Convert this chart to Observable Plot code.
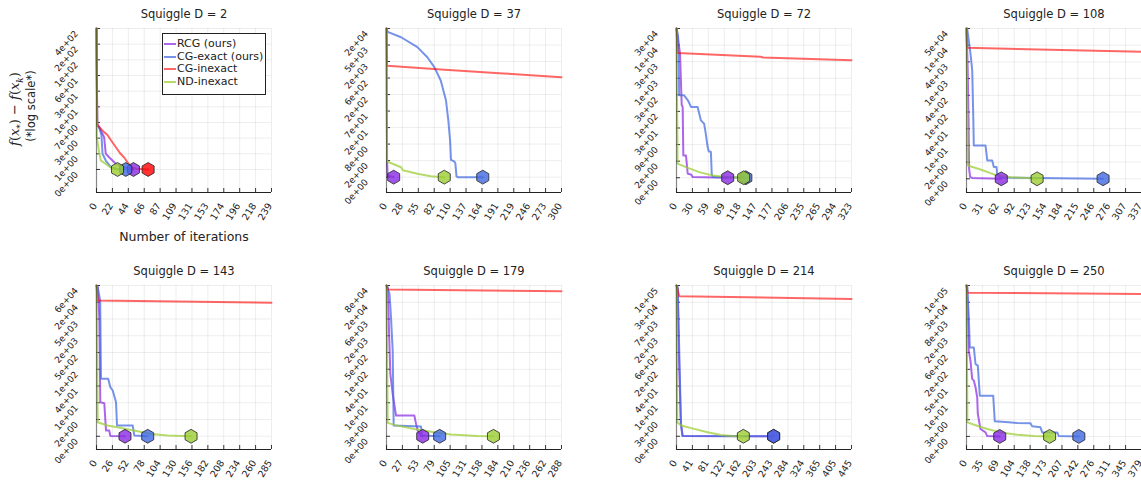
<!DOCTYPE html>
<html><head><meta charset="utf-8">
<script src="https://cdn.jsdelivr.net/npm/d3@7"></script>
<script src="https://cdn.jsdelivr.net/npm/@observablehq/plot@0.6"></script>
<style>
body{margin:0;background:#fff;}
#wrap{position:relative;width:1141px;height:485px;overflow:hidden;font-family:"DejaVu Sans",sans-serif;color:#222;}
.panel{position:absolute;}
.ylab{position:absolute;white-space:nowrap;transform:translate(-50%,-50%) rotate(-90deg);}
#legend{position:absolute;left:162px;top:33px;width:102px;height:60px;border:1px solid #222;background:#fff;font-size:11px;}
#legend .row{position:absolute;left:0;height:12px;line-height:12px;}
#legend .sw{position:absolute;left:1px;top:5px;width:12px;height:2px;}
#legend .tx{position:absolute;left:14px;top:0;white-space:nowrap;}
</style></head><body><div id="wrap"></div>
<script>
// ---- labels ----
const titles = ["Squiggle D = 2","Squiggle D = 37","Squiggle D = 72","Squiggle D = 108","Squiggle D = 143","Squiggle D = 179","Squiggle D = 214","Squiggle D = 250"];
const seriesNames = ["RCG (ours)","CG-exact (ours)","CG-inexact","ND-inexact"];
const seriesColors = ["#8a2be2","#4169e1","#ff0000","#9acd32"];
const seriesOpacity = [0.72,0.72,0.6,0.72];
const xMax = [239,300,323,337,285,288,445,379];
const yLo = [-1.47,-0.93,-0.89,-0.82,-0.79,-0.79,-0.79,-0.78];

const xLabels_D2 = ["0","22","44","66","87","109","131","153","174","196","218","239"];
const xLabels_D37 = ["0","28","55","82","110","137","164","191","219","246","273","300"];
const xLabels_D72 = ["0","30","59","89","118","147","177","206","235","265","294","323"];
const xLabels_D108 = ["0","31","62","92","123","154","184","215","246","276","307","337"];
const xLabels_D143 = ["0","26","52","78","104","130","156","182","208","234","260","285"];
const xLabels_D179 = ["0","27","53","79","105","131","158","184","210","236","262","288"];
const xLabels_D214 = ["0","41","81","122","162","203","243","284","324","365","405","445"];
const xLabels_D250 = ["0","35","69","104","138","173","207","242","276","311","345","379"];

const yLabels_D2 = ["0e+00","1e+00","3e+00","7e+00","1e+01","3e+01","6e+01","1e+02","2e+02","4e+02"];
const yLabels_D37 = ["0e+00","2e+00","8e+00","2e+01","7e+01","2e+02","6e+02","2e+03","5e+03","2e+04"];
const yLabels_D72 = ["0e+00","2e+00","9e+00","3e+01","1e+02","3e+02","1e+03","3e+03","1e+04","3e+04"];
const yLabels_D108 = ["0e+00","2e+00","1e+01","4e+01","1e+02","4e+02","1e+03","4e+03","1e+04","5e+04"];
const yLabels_D143 = ["0e+00","2e+00","1e+01","4e+01","1e+02","5e+02","2e+03","5e+03","2e+04","6e+04"];
const yLabels_D179 = ["0e+00","3e+00","1e+01","4e+01","1e+02","5e+02","2e+03","6e+03","2e+04","8e+04"];
const yLabels_D214 = ["0e+00","3e+00","1e+01","4e+01","2e+02","6e+02","2e+03","7e+03","3e+04","1e+05"];
const yLabels_D250 = ["0e+00","3e+00","1e+01","5e+01","2e+02","6e+02","2e+03","8e+03","3e+04","1e+05"];

// ---- series: [iteration, log-scaled gap (tick units)] ----
const RCG_D2 = [[0,9],[1,2.8],[3.6,2.7],[10.4,2.06],[12.7,1.0],[17.2,0.78],[26.4,0.36],[37.7,0.15],[50.5,0]];
const CGE_D2 = [[0,9],[1,2.8],[3.6,2.7],[6.8,2.17],[8.2,1.0],[12.7,0.57],[19.5,0.15],[28,0.03],[40,0]];
const CGI_D2 = [[0,9],[1,2.9],[5.9,2.6],[10,2.4],[15,2.2],[20,1.85],[26,1.45],[32,1.05],[38,0.75],[44,0.35],[48,0.12],[55,0.04],[70.5,0]];
const NDI_D2 = [[0,9],[0.4,2.06],[3.6,1.1],[5.9,0.57],[12.7,0.36],[21.9,0.05],[28.7,0]];

const RCG_D37 = [[0,9],[1,0.9],[2,0.1],[12.3,0]];
const CGE_D37 = [[0,9],[2,8.8],[25,8.47],[53,7.87],[70,7.26],[82,6.66],[93,5.85],[102,4.64],[106,3.43],[109,2.22],[110.5,1.05],[116,0.95],[118,0.85],[120,0.05],[122,0],[165,0]];
const CGI_D37 = [[0,9],[1,6.75],[100,6.5],[200,6.28],[300,6.05]];
const NDI_D37 = [[0,9],[1,0.95],[25,0.6],[28,0.42],[53,0.2],[76,0.06],[99,0]];

const RCG_D72 = [[0,9],[6.5,7.5],[9.6,4.4],[11.4,4.26],[12.6,1.34],[17.5,1.34],[20.7,0.24],[26.8,0.2],[30,0.04],[94.5,0]];
const CGE_D72 = [[0,9],[3,8.5],[5,4.97],[14,4.97],[21,4.67],[27,4.26],[39,4.26],[42,3.86],[45,3.46],[51,3.26],[54,2.66],[57.5,1.85],[59.5,1.6],[63.5,1.55],[65,0.24],[67,0.04],[128,0]];
const CGI_D72 = [[0,9],[2,7.52],[155,7.3],[160,7.25],[323,7.08]];
const NDI_D72 = [[0,9],[2,0.85],[17.5,0.64],[42,0.34],[67,0.14],[91,0.04],[124,0]];

const RCG_D108 = [[0,9],[2,7],[4,3.5],[5,0.6],[7,0.1],[12,0.05],[67,0]];
const CGE_D108 = [[0,9],[1.3,9],[7.7,7.5],[11,6.5],[12.9,3.9],[14.1,2.0],[36.6,2.0],[40,1.1],[49.5,1.1],[52.6,0.7],[57.8,0.7],[59,0.3],[62,0.2],[65.5,0.08],[180,0.04],[263,0]];
const CGI_D108 = [[0,9],[1,7.85],[337,7.6]];
const NDI_D108 = [[0,9],[2.5,0.8],[27,0.56],[46,0.34],[59,0.2],[85,0.1],[117,0.05],[136,0]];

const RCG_D143 = [[0,9],[2,8.9],[4.6,7.1],[6.2,2.03],[12.7,1.97],[15.5,0.34],[20.8,0.34],[22.5,0.02],[46.4,0]];
const CGE_D143 = [[0,9],[2,8.9],[6,8.1],[7.3,3.43],[19,3.43],[22.5,2.93],[26.4,2.73],[31.8,2.03],[33.4,0.64],[59,0.64],[61.6,0.04],[83.4,0]];
const CGI_D143 = [[0,9],[2,8.1],[285,7.97]];
const NDI_D143 = [[0,9],[2,0.84],[18,0.64],[34,0.54],[61,0.34],[89,0.14],[116,0.04],[154,0]];

const RCG_D179 = [[0,9],[2,8.9],[6.3,3.73],[10.2,2.53],[15.6,1.24],[45.8,1.24],[48.6,0.74],[51.3,0.34],[56.8,0.02],[59.6,0]];
const CGE_D179 = [[0,9],[5,8.5],[7.4,7.1],[10.2,5.1],[11.8,0.64],[56.8,0.58],[58,0.05],[87.5,0]];
const CGI_D179 = [[0,9],[2,8.76],[288,8.66]];
const NDI_D179 = [[0,9],[2,0.8],[12.8,0.68],[45.8,0.44],[78.7,0.24],[106,0.1],[149,0.02],[176,0]];

const RCG_D214 = [[0,9],[3,8.8],[6,5],[11,0.8],[15,0.02],[247,0]];
const CGE_D214 = [[0,9],[3,8.9],[7,5.1],[11.4,0.74],[15.8,0.02],[247,0]];
const CGI_D214 = [[0,9],[7,8.36],[445,8.2]];
const NDI_D214 = [[0,9],[2,0.84],[11.4,0.64],[45,0.44],[79,0.24],[113,0.08],[140,0.02],[170,0]];

const RCG_D250 = [[0,9],[1.5,8.9],[5,5.1],[8.7,4.5],[12.3,3.43],[15.9,3.33],[19.5,2.93],[23.2,2.33],[24.5,1.34],[30.3,0.44],[41.2,0.24],[44.8,0.02],[72,0]];
const CGE_D250 = [[0,9],[1.5,8.9],[5,7.1],[7.2,5.3],[15.9,5.3],[19.5,4.32],[24.5,4.22],[28.8,2.43],[57.8,2.43],[61.3,0.9],[91.6,0.84],[109.7,0.8],[138.6,0.78],[142.2,0.6],[160.2,0.54],[164,0.24],[196.4,0.24],[200,0.02],[243.3,0]];
const CGI_D250 = [[0,9],[2,8.57],[379,8.5]];
const NDI_D250 = [[0,9],[2,0.84],[23,0.64],[45,0.44],[74,0.24],[110,0.1],[146,0.02],[180,0]];

// ---- assembly ----
const panels = [
  {xl:xLabels_D2, yl:yLabels_D2, s:[RCG_D2,CGE_D2,CGI_D2,NDI_D2]},
  {xl:xLabels_D37, yl:yLabels_D37, s:[RCG_D37,CGE_D37,CGI_D37,NDI_D37]},
  {xl:xLabels_D72, yl:yLabels_D72, s:[RCG_D72,CGE_D72,CGI_D72,NDI_D72]},
  {xl:xLabels_D108, yl:yLabels_D108, s:[RCG_D108,CGE_D108,CGI_D108,NDI_D108]},
  {xl:xLabels_D143, yl:yLabels_D143, s:[RCG_D143,CGE_D143,CGI_D143,NDI_D143]},
  {xl:xLabels_D179, yl:yLabels_D179, s:[RCG_D179,CGE_D179,CGI_D179,NDI_D179]},
  {xl:xLabels_D214, yl:yLabels_D214, s:[RCG_D214,CGE_D214,CGI_D214,NDI_D214]},
  {xl:xLabels_D250, yl:yLabels_D250, s:[RCG_D250,CGE_D250,CGI_D250,NDI_D250]}
];

const W = 290, H = 242, ML = 96, MR = 19, MT = 28, MB = 50;
const PW = W - ML - MR, PH = H - MT - MB;
const wrap = document.getElementById("wrap");

panels.forEach((p, i) => {
  const col = i % 4, row = Math.floor(i / 4);
  const xt = p.xl.map((lab, k) => ({x: k * xMax[i] / 11, lab}));
  const yt = p.yl.map((lab, k) => ({y: k, lab}));
  const lineMarks = p.s.map((arr, s) => Plot.line(arr, {x: d => d[0], y: d => d[1], stroke: seriesColors[s], strokeWidth: 2, strokeOpacity: seriesOpacity[s]}));
  const finals = [];
  p.s.forEach((arr, s) => { const last = arr[arr.length - 1]; if (last[0] < xMax[i]) finals.push({x: last[0], y: last[1], s}); });
  const marks = [
    Plot.ruleX(xt, {x: "x", stroke: "#000", strokeOpacity: 0.1, strokeWidth: 0.7}),
    Plot.ruleY(yt, {y: "y", stroke: "#000", strokeOpacity: 0.1, strokeWidth: 0.7}),
    Plot.tickX(xt, {x: "x", stroke: "#222", strokeWidth: 0.9, insetTop: PH - 4}),
    Plot.tickY(yt, {y: "y", stroke: "#222", strokeWidth: 0.9, insetRight: PW - 4}),
    Plot.ruleY([yLo[i]], {stroke: "#222", strokeWidth: 1.2}),
    ...lineMarks,
    Plot.ruleX([0], {stroke: "#222", strokeWidth: 1.2, strokeOpacity: 0.5}),
    Plot.dot(finals, {x: "x", y: "y", fill: d => seriesColors[d.s], fillOpacity: 0.8, stroke: "#222", strokeWidth: 0.8, r: 6, symbol: "hexagon"}),
    Plot.text(yt, {frameAnchor: "left", y: "y", text: "lab", rotate: -48, textAnchor: "end", dx: -20, dy: 3.5, fontSize: 9, fill: "#222"}),
    Plot.text(xt, {frameAnchor: "bottom", x: "x", text: "lab", rotate: -58, textAnchor: "end", dx: 1, dy: 13, fontSize: 9.5, fill: "#222"}),
    Plot.text([titles[i]], {frameAnchor: "top", text: d => d, dy: -10.5, lineAnchor: "bottom", fontSize: 11.5, fill: "#222"})
  ];
  if (i === 0) marks.push(Plot.text(["Number of iterations"], {frameAnchor: "bottom", text: d => d, dy: 48, lineAnchor: "bottom", fontSize: 12.5, fill: "#222"}));
  const chart = Plot.plot({
    width: W, height: H, marginLeft: ML, marginRight: MR, marginTop: MT, marginBottom: MB,
    x: {domain: [0, xMax[i]], axis: null},
    y: {domain: [yLo[i], 9], axis: null},
    style: {background: "transparent", overflow: "visible", fontFamily: "DejaVu Sans, sans-serif"},
    marks
  });
  chart.classList.add("panel");
  chart.style.left = (col * 290) + "px";
  chart.style.top = (row * 257) + "px";
  wrap.appendChild(chart);
});

// y-axis title
const yl1 = document.createElement("div");
yl1.className = "ylab";
yl1.style.left = "16px"; yl1.style.top = "109px";
yl1.style.fontFamily = "'DejaVu Serif', serif"; yl1.style.fontSize = "13px";
yl1.innerHTML = "<i>f</i>(<i>x</i><sub style='font-size:9px'>*</sub>) − <i>f</i>(<i>x</i><sub style='font-size:9px'><i>k</i></sub>)";
wrap.appendChild(yl1);
const yl2 = document.createElement("div");
yl2.className = "ylab";
yl2.style.left = "31px"; yl2.style.top = "106px"; yl2.style.fontSize = "11.5px";
yl2.textContent = "(*log scale*)";
wrap.appendChild(yl2);

// legend
const leg = document.createElement("div");
leg.id = "legend";
seriesNames.forEach((n, s) => {
  const r = document.createElement("div");
  r.className = "row";
  r.style.top = (4 + s * 12.7) + "px";
  r.innerHTML = `<div class="sw" style="background:${seriesColors[s]};opacity:${seriesOpacity[s]}"></div><div class="tx">${n}</div>`;
  leg.appendChild(r);
});
wrap.appendChild(leg);
</script></body></html>
